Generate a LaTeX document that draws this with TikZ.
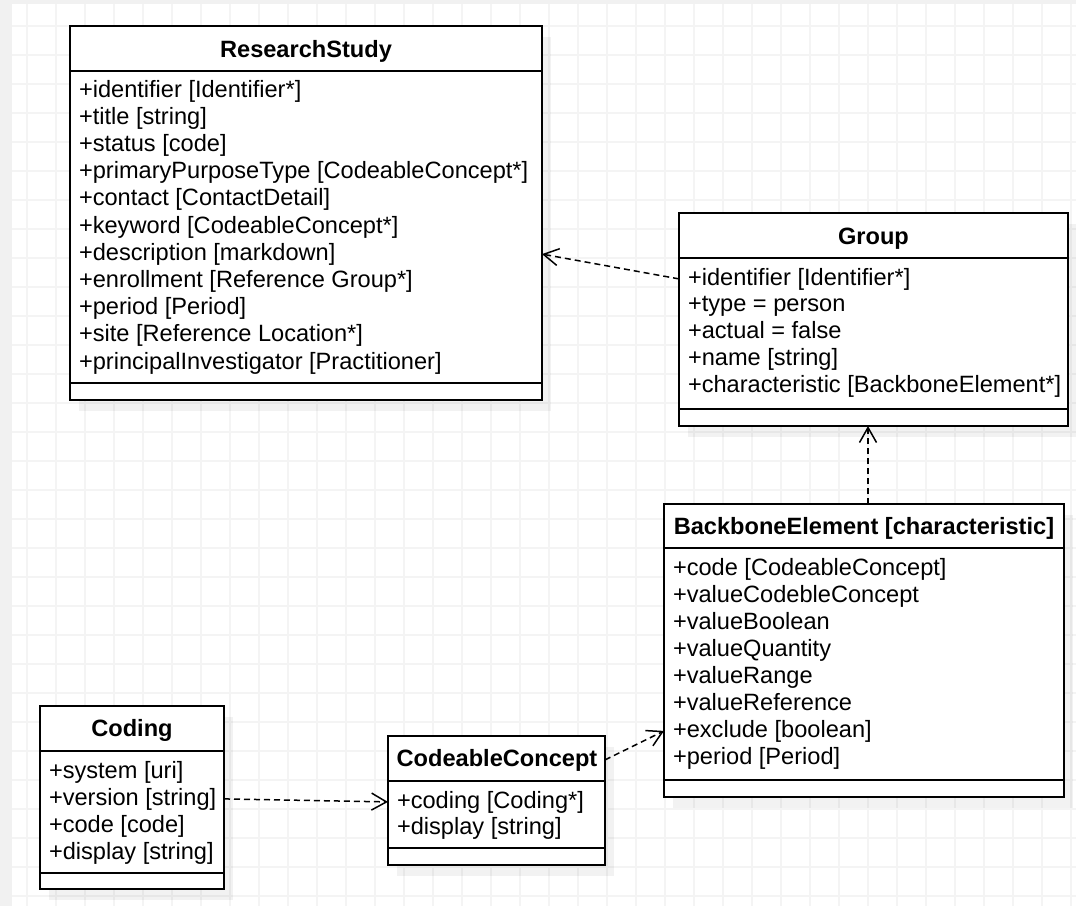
\documentclass[tikz,border=0pt]{standalone}
\usepackage{fontspec}
\setmainfont{Liberation Sans}
\usetikzlibrary{arrows.meta,calc,shadows}
\definecolor{bgout}{RGB}{241,241,241}
\definecolor{gridc}{RGB}{244,244,244}
\begin{document}
\begin{tikzpicture}[x=1pt,y=-1pt,
  umlbox/.style={draw=black, line width=2pt, fill=white, inner sep=0pt, outer sep=0pt,
    drop shadow={shadow xshift=9pt, shadow yshift=-11pt, fill=black, opacity=0.05}},
  sepline/.style={draw=black, line width=2pt},
  attr/.style={inner sep=0pt, outer sep=0pt, anchor=base west, font=\fontsize{23.6}{27}\selectfont},
  ttl/.style={inner sep=0pt, outer sep=0pt, anchor=base, font=\fontsize{23.6}{27}\selectfont\bfseries},
  dep/.style={draw=black, line width=1.5pt, dash pattern=on 6pt off 4pt,
    -{Straight Barb[length=15pt,width=17pt,line width=1.5pt]}}
]
\useasboundingbox (0,0) rectangle (1076,906);
\fill[bgout] (0,0) rectangle (1076,906);
\fill[white] (12,4) rectangle (1076,906);
\foreach \x in {27,56,...,1076} \draw[gridc, line width=1.2pt] (\x,4) -- (\x,906);
\foreach \y in {26,55,...,906} \draw[gridc, line width=1.2pt] (12,\y) -- (1076,\y);

% ResearchStudy
\node[umlbox, minimum width=472pt, minimum height=374pt] (rs) at (306,213) {};
\draw[sepline] (rs.west |- 0,71) -- (rs.east |- 0,71);
\draw[sepline] (rs.west |- 0,383) -- (rs.east |- 0,383);
\node[ttl] (rs-t) at (306,57) {ResearchStudy};
\foreach \t [count=\i from 0] in {{+identifier [Identifier*]},{+title [string]},{+status [code]},
  {+primaryPurposeType [CodeableConcept*]},{+contact [ContactDetail]},{+keyword [CodeableConcept*]},
  {+description [markdown]},{+enrollment [Reference Group*]},{+period [Period]},
  {+site [Reference Location*]},{+principalInvestigator [Practitioner]}}
  \node[attr] (rs-a\i) at (79,97+27.2*\i) {\t};

% Group
\node[umlbox, minimum width=389pt, minimum height=213pt] (grp) at (873.5,319.5) {};
\draw[sepline] (grp.west |- 0,258) -- (grp.east |- 0,258);
\draw[sepline] (grp.west |- 0,409) -- (grp.east |- 0,409);
\node[ttl] (grp-t) at (873.5,244) {Group};
\foreach \t [count=\i from 0] in {{+identifier [Identifier*]},{+type = person},{+actual = false},
  {+name [string]},{+characteristic [BackboneElement*]}}
  \node[attr] (grp-a\i) at (688,285+26.8*\i) {\t};

% BackboneElement
\node[umlbox, minimum width=400pt, minimum height=293pt] (bb) at (864,650.5) {};
\draw[sepline] (bb.west |- 0,548) -- (bb.east |- 0,548);
\draw[sepline] (bb.west |- 0,780) -- (bb.east |- 0,780);
\node[ttl] (bb-t) at (864,534) {BackboneElement [characteristic]};
\foreach \t [count=\i from 0] in {{+code [CodeableConcept]},{+valueCodebleConcept},{+valueBoolean},
  {+valueQuantity},{+valueRange},{+valueReference},{+exclude [boolean]},{+period [Period]}}
  \node[attr] (bb-a\i) at (673,575+27*\i) {\t};

% Coding
\node[umlbox, minimum width=184pt, minimum height=183pt] (cod) at (132,797.5) {};
\draw[sepline] (cod.west |- 0,751) -- (cod.east |- 0,751);
\draw[sepline] (cod.west |- 0,873) -- (cod.east |- 0,873);
\node[ttl] (cod-t) at (132,736) {Coding};
\foreach \t [count=\i from 0] in {{+system [uri]},{+version [string]},{+code [code]},{+display [string]}}
  \node[attr] (cod-a\i) at (49,778+27*\i) {\t};

% CodeableConcept
\node[umlbox, minimum width=217pt, minimum height=129pt] (cc) at (496.5,800.5) {};
\draw[sepline] (cc.west |- 0,781) -- (cc.east |- 0,781);
\draw[sepline] (cc.west |- 0,848) -- (cc.east |- 0,848);
\node[ttl] (cc-t) at (497,766) {CodeableConcept};
\foreach \t [count=\i from 0] in {{+coding [Coding*]},{+display [string]}}
  \node[attr] (cc-a\i) at (397,808+26.5*\i) {\t};

% connectors
\coordinate (bbtop) at ($(bb.north)+(4,0)$);
\draw[dep] (grp.west |- grp-a0) -- (rs.east |- rs-a6);
\draw[dep] (bbtop) -- (bbtop |- grp.south);
\draw[dep] (cod.east |- cod-a1) -- (cc.west |- cc-a0);
\draw[dep] (cc.east |- cc-t) -- (bb.west |- bb-a6);
\end{tikzpicture}
\end{document}
